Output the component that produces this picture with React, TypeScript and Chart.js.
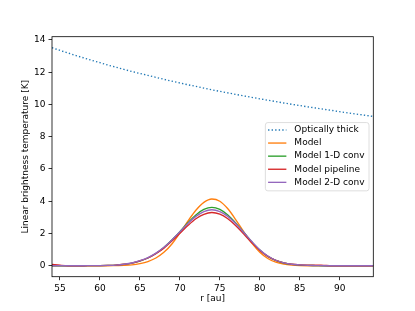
import React, { useEffect, useRef } from "react";
import { Chart, registerables } from "chart.js";
Chart.register(...registerables);

const radius = [54, 55, 56, 57, 58, 59, 60, 61, 62, 63, 64, 65, 66, 67, 68, 69, 70, 71, 72, 73, 74, 75, 76, 77, 78, 79, 80, 81, 82, 83, 84, 85, 86, 87, 88, 89, 90, 91, 92, 93, 94.2];

const opticallyThick = [13.52, 13.35, 13.19, 13.03, 12.88, 12.73, 12.59, 12.44, 12.31, 12.17, 12.04, 11.92, 11.8, 11.68, 11.56, 11.44, 11.33, 11.22, 11.12, 11.01, 10.91, 10.81, 10.72, 10.62, 10.53, 10.44, 10.35, 10.26, 10.18, 10.09, 10.01, 9.93, 9.85, 9.78, 9.7, 9.63, 9.55, 9.48, 9.41, 9.34, 9.26];

const model = [0, 0, 0, 0, 0, 0, 0, 0, 0.01, 0.02, 0.05, 0.13, 0.26, 0.48, 0.83, 1.35, 2.03, 2.76, 3.44, 3.93, 4.14, 4.0, 3.53, 2.85, 2.1, 1.4, 0.84, 0.45, 0.22, 0.1, 0.04, 0.01, 0, 0, 0, 0, 0, 0, 0, 0, 0];

const model1DConv = [0, 0, 0, 0, 0, 0.01, 0.01, 0.02, 0.04, 0.08, 0.16, 0.29, 0.48, 0.76, 1.13, 1.6, 2.11, 2.66, 3.15, 3.49, 3.62, 3.49, 3.14, 2.64, 2.06, 1.48, 0.97, 0.58, 0.33, 0.17, 0.08, 0.04, 0.02, 0.01, 0, 0, 0, 0, 0, 0, 0];

const modelPipeline = [0.08, 0.03, 0, 0, 0, 0.01, 0.01, 0.02, 0.04, 0.09, 0.16, 0.3, 0.48, 0.75, 1.09, 1.53, 2.01, 2.49, 2.91, 3.19, 3.3, 3.2, 2.91, 2.48, 1.96, 1.43, 0.95, 0.58, 0.33, 0.18, 0.09, 0.05, 0.04, 0.04, 0.02, 0, 0, 0, 0, 0, 0];

const model2DConv = [0, 0, 0, 0, 0, 0.01, 0.01, 0.02, 0.04, 0.09, 0.17, 0.31, 0.5, 0.78, 1.14, 1.6, 2.11, 2.62, 3.06, 3.36, 3.47, 3.36, 3.06, 2.6, 2.06, 1.5, 0.99, 0.6, 0.34, 0.18, 0.09, 0.05, 0.02, 0.01, 0, 0, 0, 0, 0, 0, 0];

const xTicks = [55, 60, 65, 70, 75, 80, 85, 90];
const yTicks = [0, 2, 4, 6, 8, 10, 12, 14];

const seriesLabels = ["Optically thick", "Model", "Model 1-D conv", "Model pipeline", "Model 2-D conv"];
const seriesColors = ["#1f77b4", "#ff7f0e", "#2ca02c", "#d62728", "#9467bd"];

const FONT = "DejaVu Sans";
const LW = 1.35;
const DOT = [1.35, 2.2];

export default function App() {
  const ref = useRef<HTMLCanvasElement>(null);

  useEffect(() => {
    const canvas = ref.current;
    if (!canvas) return;
    const pts = (vals: number[]) => radius.map((x, i) => ({ x, y: vals[i] }));
    const allSeries = [opticallyThick, model, model1DConv, modelPipeline, model2DConv];
    const orders = [4, 3, 2, 1, 0];

    const framePlugin = {
      id: "frameLegend",
      afterDraw(chart: any) {
        const { ctx, chartArea: a } = chart;
        ctx.save();
        ctx.strokeStyle = "#000";
        ctx.lineWidth = 0.8;
        ctx.setLineDash([]);
        ctx.strokeRect(a.left, a.top, a.right - a.left, a.bottom - a.top);

        ctx.font = `9px "${FONT}"`;
        const labels: string[] = chart.data.datasets.map((d: any) => d.label);
        const maxW = Math.max(...labels.map((l) => ctx.measureText(l).width));
        const rowH = 13.1;
        const boxW = 29 + maxW + 4.5;
        const boxH = 68.3;
        const right = a.right - 4.3;
        const left = right - boxW;
        const cy = (a.top + a.bottom) / 2;
        const top = cy - boxH / 2;
        const rr = 2.5;
        ctx.beginPath();
        ctx.moveTo(left + rr, top);
        ctx.lineTo(left + boxW - rr, top);
        ctx.arcTo(left + boxW, top, left + boxW, top + rr, rr);
        ctx.lineTo(left + boxW, top + boxH - rr);
        ctx.arcTo(left + boxW, top + boxH, left + boxW - rr, top + boxH, rr);
        ctx.lineTo(left + rr, top + boxH);
        ctx.arcTo(left, top + boxH, left, top + boxH - rr, rr);
        ctx.lineTo(left, top + rr);
        ctx.arcTo(left, top, left + rr, top, rr);
        ctx.closePath();
        ctx.fillStyle = "rgba(255,255,255,0.8)";
        ctx.fill();
        ctx.strokeStyle = "#d6d6d6";
        ctx.lineWidth = 0.8;
        ctx.stroke();

        chart.data.datasets.forEach((d: any, i: number) => {
          const y = top + 7.4 + i * rowH;
          ctx.beginPath();
          ctx.strokeStyle = d.borderColor;
          ctx.lineWidth = LW;
          ctx.lineCap = "butt";
          ctx.setLineDash(d.borderDash || []);
          ctx.moveTo(left + 2.7, y);
          ctx.lineTo(left + 21, y);
          ctx.stroke();
          ctx.setLineDash([]);
          ctx.fillStyle = "#000";
          ctx.textBaseline = "middle";
          ctx.textAlign = "left";
          ctx.fillText(d.label, left + 29, y);
        });
        ctx.restore();
      },
    };

    const tickFont = { family: FONT, size: 9 };

    const chart = new Chart(canvas, {
      type: "line",
      data: {
        datasets: allSeries.map((vals, i) => ({
          label: seriesLabels[i],
          data: pts(vals),
          borderColor: seriesColors[i],
          backgroundColor: seriesColors[i],
          borderWidth: LW,
          borderDash: i === 0 ? DOT : undefined,
          borderCapStyle: "butt",
          pointRadius: 0,
          fill: false,
          tension: 0,
          cubicInterpolationMode: i === 0 ? "default" : "monotone",
          order: orders[i],
        })) as any,
      },
      options: {
        animation: false,
        responsive: false,
        devicePixelRatio: 1,
        parsing: false as any,
        layout: { padding: { top: 36.7, right: 41.7, bottom: 0, left: 0 } },
        plugins: { legend: { display: false }, tooltip: { enabled: false } },
        scales: {
          x: {
            type: "linear",
            min: 54,
            max: 94.2,
            afterBuildTicks: (s: any) => {
              s.ticks = xTicks.map((v) => ({ value: v }));
            },
            afterFit: (s: any) => {
              s.height = 34.3;
            },
            grid: { drawOnChartArea: false, drawTicks: true, tickLength: 3.5, color: "#000", lineWidth: 0.8 },
            border: { display: false },
            ticks: { color: "#000", font: tickFont, padding: 3, maxRotation: 0, autoSkip: false },
            title: { display: true, text: "r [au]", color: "#000", font: tickFont, padding: { top: 0, bottom: 6.6 } },
          },
          y: {
            type: "linear",
            min: -0.68,
            max: 14.2,
            afterBuildTicks: (s: any) => {
              s.ticks = yTicks.map((v) => ({ value: v }));
            },
            afterFit: (s: any) => {
              s.width = 52;
            },
            grid: { drawOnChartArea: false, drawTicks: true, tickLength: 3.5, color: "#000", lineWidth: 0.8 },
            border: { display: false },
            ticks: { color: "#000", font: tickFont, padding: 3, autoSkip: false },
            title: {
              display: true,
              text: "Linear brightness temperature [K]",
              color: "#000",
              font: tickFont,
              padding: { top: 20, bottom: 0 },
            },
          },
        },
      },
      plugins: [framePlugin],
    } as any);

    return () => chart.destroy();
  }, []);

  return (
    <div style={{ position: "fixed", left: 0, top: 0, width: 415, height: 311, background: "#fff" }}>
      <canvas ref={ref} width={415} height={311} style={{ display: "block" }} />
    </div>
  );
}
